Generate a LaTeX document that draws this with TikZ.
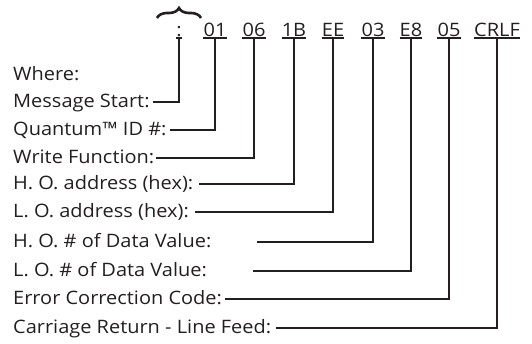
\documentclass[tikz,border=0pt]{standalone}
\usepackage{fontspec}
\setmainfont{Open Sans}[FakeStretch=1.08]
\usetikzlibrary{decorations.pathreplacing}
\definecolor{ink}{HTML}{231F20}
\begin{document}
\begin{tikzpicture}[x=1pt,y=-1pt,
  lbl/.style={anchor=base west,inner sep=0pt,text=ink,font=\fontsize{18.5}{22}\selectfont},
  tok/.style={anchor=base,inner sep=0pt,text=ink,font=\fontsize{18.5}{22}\selectfont},
  uline/.style={draw=ink,line width=1.2pt},
  lead/.style={draw=ink,line width=1.6pt}]
\useasboundingbox (0,0) rectangle (532,343);

% message bytes
\node[tok] (t0) at (179,36.5) {:};
\node[tok] (t1) at (215,36.5) {01};
\node[tok] (t2) at (254,36.5) {06};
\node[tok] (t3) at (294,36.5) {1B};
\node[tok] (t4) at (333,36.5) {EE};
\node[tok] (t5) at (373,36.5) {03};
\node[tok] (t6) at (411,36.5) {E8};
\node[tok] (t7) at (449,36.5) {05};
\node[tok] (t8) at (497,36.5) {CRLF};
\foreach \t in {t0,t1,t2,t3,t4,t5,t6,t7,t8}
  \draw[uline] ([yshift=-1.5pt]\t.base west) -- ([yshift=-1.5pt]\t.base east);

% brace over the start character
\draw[draw=ink,line width=2.6pt,decorate,decoration={brace,amplitude=10pt}]
  (157,18) -- (201,18);

% field labels
\node[lbl] (w)  at (13,80)  {Where:};
\node[lbl] (l0) at (13,107.5) {Message Start:};
\node[lbl] (l1) at (13,135.5) {Quantum™ ID \#:};
\node[lbl] (l2) at (13,163.5) {Write Function:};
\node[lbl] (l3) at (13,189.5) {H. O. address (hex):};
\node[lbl] (l4) at (13,217.5) {L. O. address (hex):};
\node[lbl] (l5) at (13,247.5) {H. O. \# of Data Value:};
\node[lbl] (l6) at (13,276.5) {L. O. \# of Data Value:};
\node[lbl] (l7) at (13,304.5) {Error Correction Code:};
\node[lbl] (l8) at (13,333.5) {Carriage Return - Line Feed:};

% free ends of the leader lines: just after the label, or further right
\coordinate (e0) at ([xshift=3pt]l0.base east);
\coordinate (e1) at ([xshift=3pt]l1.base east);
\coordinate (e2) at ([xshift=2pt]l2.base east);
\coordinate (e3) at ([xshift=6pt]l3.base east);
\coordinate (e4) at ([xshift=6pt]l4.base east);
\coordinate (e5) at (257,247.5);
\coordinate (e6) at (253,276.5);
\coordinate (e7) at ([xshift=3pt]l7.base east);
\coordinate (e8) at ([xshift=5pt]l8.base east);

\foreach \i in {0,...,8}
  \draw[lead] ([yshift=-1.5pt]t\i.base) |- ([yshift=5.5pt]e\i);
\end{tikzpicture}
\end{document}
